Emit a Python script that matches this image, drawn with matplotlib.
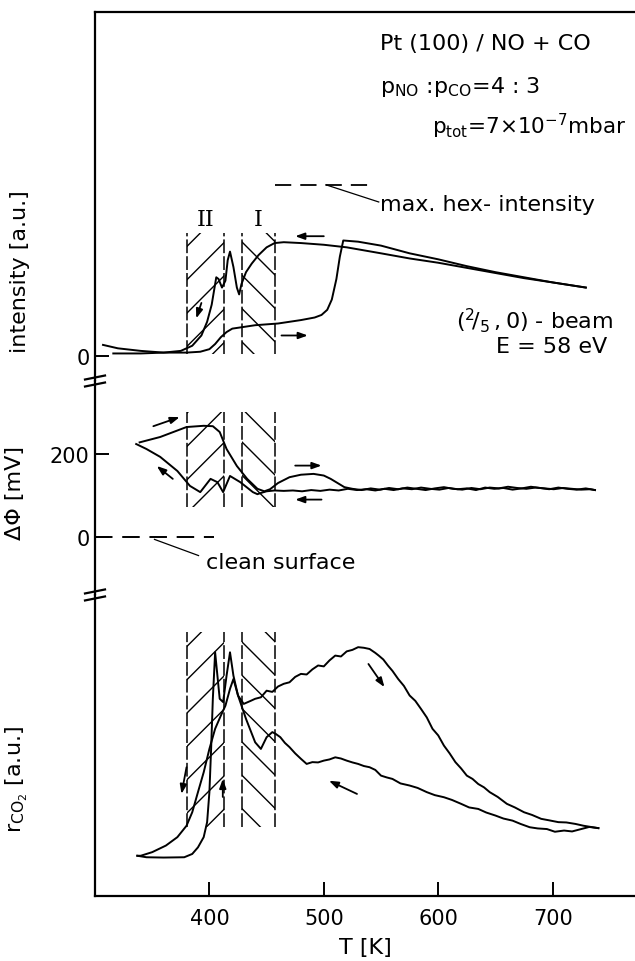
import matplotlib
matplotlib.use('Agg')
import matplotlib.pyplot as plt
from matplotlib.patches import Rectangle

plt.rcParams['font.family'] = 'DejaVu Sans'
plt.rcParams['mathtext.fontset'] = 'dejavusans'
plt.rcParams['hatch.linewidth'] = 1.0

# ---- LEED (2/5,0) beam intensity ----
T_int_heat = [307, 320, 340, 360, 380, 392, 400, 405, 410, 415, 420, 430, 440, 460, 480, 492, 498,
              503, 507, 511, 514, 517, 530, 550, 575, 600, 625, 650, 675, 700, 729]
int_heat = [0.065, 0.045, 0.03, 0.02, 0.02, 0.025, 0.04, 0.07, 0.11, 0.14, 0.16, 0.17, 0.18, 0.19, 0.21, 0.225, 0.24,
            0.27, 0.33, 0.45, 0.58, 0.675, 0.668, 0.645, 0.60, 0.565, 0.525, 0.49, 0.46, 0.43, 0.40]
T_int_cool = [729, 700, 675, 650, 625, 600, 575, 550, 520, 500, 480, 465, 457, 450, 443, 437, 432, 428,
              426, 424, 421, 418, 416, 414, 411, 408, 406, 404, 402, 398, 393, 385, 375, 360, 340, 316]
int_cool = [0.40, 0.43, 0.455, 0.485, 0.515, 0.545, 0.57, 0.60, 0.635, 0.65, 0.66, 0.665, 0.66, 0.635, 0.59, 0.54, 0.49, 0.42,
            0.36, 0.40, 0.52, 0.61, 0.56, 0.44, 0.40, 0.45, 0.46, 0.38, 0.30, 0.20, 0.12, 0.06, 0.03, 0.02, 0.015, 0.015]

# ---- work function change ----
T_phi_heat = [339, 357, 380, 395, 403, 409, 415, 424, 433, 442, 448, 453, 460, 470, 480, 491, 500, 506, 512, 518,
              525, 533, 541, 549, 557, 565, 573, 581, 589, 597, 605, 613, 621, 629, 637, 645, 653, 661, 669,
              677, 685, 693, 701, 709, 717, 725, 733, 737]
phi_heat = [228, 241, 265, 268, 267, 253, 212, 171, 140, 116, 110, 115, 130, 144, 150, 152, 148, 140, 130, 120,
            116, 113, 117, 114, 118, 115, 119, 116, 113, 117, 120, 116, 114, 118, 115, 119, 117, 121, 118,
            116, 119, 117, 115, 118, 116, 114, 115, 113]
T_phi_cool = [737, 729, 721, 713, 705, 697, 689, 681, 673, 665, 657, 649, 641, 633, 625, 617, 609, 601, 593,
              585, 577, 569, 561, 553, 545, 537, 529, 521, 513, 505, 497, 489, 481, 473, 465, 457, 450, 445,
              442, 438, 427, 418, 412, 407, 401, 392, 383, 372, 357, 345, 336]
phi_cool = [113, 117, 114, 116, 119, 115, 118, 121, 117, 114, 118, 116, 119, 113, 117, 115, 118, 114, 116,
            119, 115, 117, 113, 116, 112, 115, 113, 116, 112, 114, 111, 113, 110, 112, 111, 112, 110, 106,
            103, 108, 132, 147, 108, 132, 140, 108, 123, 159, 193, 212, 224]

# ---- CO2 production rate ----
T_r_heat = [337, 345, 360, 378, 385, 390, 395, 398, 400, 401.5, 403, 405, 407, 409, 412, 415, 418, 421, 425,
            430, 436, 440, 445, 450, 455, 460, 465, 470, 475, 480, 485, 490, 495, 500, 505, 510, 515, 520,
            525, 530, 535, 540, 545, 548, 552, 556, 560, 565, 570, 575, 580, 585, 590, 595, 600, 605, 610,
            615, 620, 625, 630, 635, 640, 645, 652, 660, 667, 675, 682, 690, 697, 705, 712, 720, 727, 735, 740]
r_heat = [1.34, 1.29, 1.28, 1.29, 1.40, 1.62, 1.96, 2.46, 3.46, 4.9, 6.57, 8.12, 7.34, 6.57, 6.46, 7.34, 8.12, 7.34, 6.68,
          6.40, 6.50, 6.57, 6.62, 6.84, 6.80, 6.98, 7.07, 7.12, 7.30, 7.40, 7.38, 7.55, 7.68, 7.65, 7.85, 8.01, 7.98, 8.15,
          8.20, 8.29, 8.27, 8.23, 8.10, 8.01, 7.88, 7.68, 7.50, 7.23, 7.00, 6.68, 6.50, 6.23, 5.95, 5.57, 5.35, 5.01, 4.75,
          4.46, 4.25, 4.01, 3.90, 3.73, 3.62, 3.46, 3.30, 3.07, 2.95, 2.79, 2.70, 2.57, 2.52, 2.46, 2.45, 2.40, 2.34, 2.29, 2.26]
T_r_cool = [740, 732, 725, 717, 710, 702, 695, 687, 680, 672, 665, 657, 650, 642, 635, 627, 620, 612, 605, 597,
            590, 582, 575, 567, 560, 555, 550, 545, 540, 535, 530, 525, 520, 515, 510, 505, 500, 495, 490, 485,
            480, 475, 470, 466, 462, 458, 455, 450, 445, 440, 432, 425, 421, 418, 414, 410, 405, 400, 395, 390,
            385, 380, 372, 362, 350, 340, 337]
r_cool = [2.26, 2.30, 2.23, 2.15, 2.18, 2.14, 2.23, 2.25, 2.29, 2.40, 2.51, 2.58, 2.68, 2.78, 2.90, 2.95, 3.07, 3.20, 3.29, 3.36,
          3.46, 3.60, 3.68, 3.75, 3.90, 3.95, 4.01, 4.20, 4.29, 4.33, 4.40, 4.45, 4.51, 4.58, 4.62, 4.55, 4.51, 4.45, 4.46, 4.40,
          4.57, 4.75, 4.96, 5.10, 5.29, 5.40, 5.46, 5.29, 4.90, 5.12, 5.90, 6.68, 7.23, 6.90, 6.34, 6.01, 5.57, 4.90, 4.12, 3.46,
          2.79, 2.34, 1.96, 1.68, 1.46, 1.34, 1.34]

# hatched temperature regions II and I
box_T = [(380.5, 413.0), (428.6, 457.0)]
box_hatch = ['/', '\\']

fs = 16
fig = plt.figure(figsize=(6.35, 9.62), dpi=100)
ax1 = fig.add_axes([0.1496, 0.6029, 0.8504, 0.3836])
ax2 = fig.add_axes([0.1496, 0.3805, 0.8504, 0.2224])
ax3 = fig.add_axes([0.1496, 0.0676, 0.8504, 0.3129])

lw = 1.4
for ax in (ax1, ax2, ax3):
    ax.set_xlim(300, 772)
    for s in ('right', 'top', 'bottom'):
        ax.spines[s].set_visible(False)
    ax.spines['left'].set_linewidth(1.6)
    ax.tick_params(direction='in', length=10, width=1.4, labelsize=15, pad=4)
    ax.set_xticks([])

ax1.spines['top'].set_visible(True)
ax1.spines['top'].set_linewidth(1.6)
ax3.spines['bottom'].set_visible(True)
ax3.spines['bottom'].set_linewidth(1.6)

ax1.set_ylim(-0.146, 2.01)
ax2.set_ylim(-140, 376)
ax3.set_ylim(0, 10.03)

# hatched boxes in each panel
box_y = {ax1: (0.01, 0.717), ax2: (72, 301), ax3: (2.29, 8.79)}
for ax, (y0, y1) in box_y.items():
    for (t0, t1), h in zip(box_T, box_hatch):
        ax.add_patch(Rectangle((t0, y0), t1 - t0, y1 - y0, hatch=h, fill=False,
                               edgecolor='k', linewidth=0))
        ax.vlines([t0, t1], y0, y1, colors='k', linewidth=1.1, linestyles=(0, (9, 2)))


def arrow(ax, x0, y0, x1, y1):
    ax.annotate('', xy=(x1, y1), xytext=(x0, y0),
                arrowprops=dict(arrowstyle='-|>,head_length=0.55,head_width=0.2', color='k',
                                lw=1.3, shrinkA=0, shrinkB=0))


# top panel
ax1.plot(T_int_heat, int_heat, color='k', lw=lw)
ax1.plot(T_int_cool, int_cool, color='k', lw=lw)
ax1.plot([457.5, 541], [1.0, 1.0], color='k', lw=1.3, dashes=(9, 5))
ax1.plot([502, 548], [1.0, 0.90], color='k', lw=0.9)
ax1.text(549, 0.89, 'max. hex- intensity', fontsize=fs, va='center')
ax1.text(549, 1.827, 'Pt (100) / NO + CO', fontsize=fs, va='center')
ax1.text(549, 1.576, r'$\mathregular{p_{NO}}$ :$\mathregular{p_{CO}}$=4 : 3', fontsize=fs, va='center')
ax1.text(764, 1.345, r'$\mathregular{p_{tot}}$=7×10$^{\mathregular{-7}}$mbar', fontsize=fs - 0.5,
         ha='right', va='center')
ax1.text(753, 0.21, r'$\mathregular{(^2\!/_5\,,0)}$ - beam', fontsize=fs, ha='right', va='center')
ax1.text(748, 0.06, 'E = 58 eV', fontsize=fs, ha='right', va='center')
ax1.text(397, 0.80, 'II', fontsize=fs, family='DejaVu Serif', ha='center', va='center')
ax1.text(443, 0.80, 'I', fontsize=fs, family='DejaVu Serif', ha='center', va='center')
arrow(ax1, 500, 0.70, 475, 0.70)
arrow(ax1, 463, 0.12, 486, 0.12)
arrow(ax1, 393, 0.31, 388.5, 0.22)
ax1.set_yticks([0])
ax1.set_yticklabels(['0'])
ax1.set_ylabel('intensity [a.u.]', fontsize=fs)
ax1.yaxis.set_label_coords(-0.12, 0.30)

# middle panel
ax2.plot(T_phi_heat, phi_heat, color='k', lw=lw)
ax2.plot(T_phi_cool, phi_cool, color='k', lw=lw)
ax2.plot([300, 404], [0, 0], color='k', lw=1.4, dashes=(9, 5))
ax2.plot([352, 390.5], [-6, -45], color='k', lw=0.9)
ax2.text(397, -60, 'clean surface', fontsize=fs, va='center')
arrow(ax2, 351, 267, 374, 289)
arrow(ax2, 368, 140, 354, 171)
arrow(ax2, 475, 172, 498, 172)
arrow(ax2, 498, 90, 475, 90)
ax2.set_yticks([0, 200])
ax2.set_ylabel('ΔΦ [mV]', fontsize=fs)
ax2.yaxis.set_label_coords(-0.13, 0.48)

# bottom panel
ax3.plot(T_r_heat, r_heat, color='k', lw=lw)
ax3.plot(T_r_cool, r_cool, color='k', lw=lw)
arrow(ax3, 380, 4.29, 375.6, 3.40)
arrow(ax3, 411.7, 3.3, 411.7, 3.9)
arrow(ax3, 539, 7.73, 553, 6.96)
arrow(ax3, 529, 3.40, 504.5, 3.84)
ax3.set_yticks([])
ax3.set_xticks([400, 500, 600, 700])
ax3.tick_params(axis='x', pad=9)
ax3.set_ylabel(r'$\mathregular{r_{CO_2}}$ [a.u.]', fontsize=fs)
ax3.yaxis.set_label_coords(-0.12, 0.39)
ax3.set_xlabel('T [K]', fontsize=fs, labelpad=6)

# axis break marks on the left spine
for ax in (ax2, ax3):
    pos = ax.get_position()
    xf = pos.x0
    yf = pos.y1
    dx = 10 / 635
    for off in (-3.5 / 962, 3.5 / 962):
        ax.plot([xf - dx, xf + dx], [yf + off - 2 / 962, yf + off + 2 / 962], color='k', lw=1.6,
                transform=fig.transFigure, clip_on=False)

plt.savefig('out.png', dpi=100)
